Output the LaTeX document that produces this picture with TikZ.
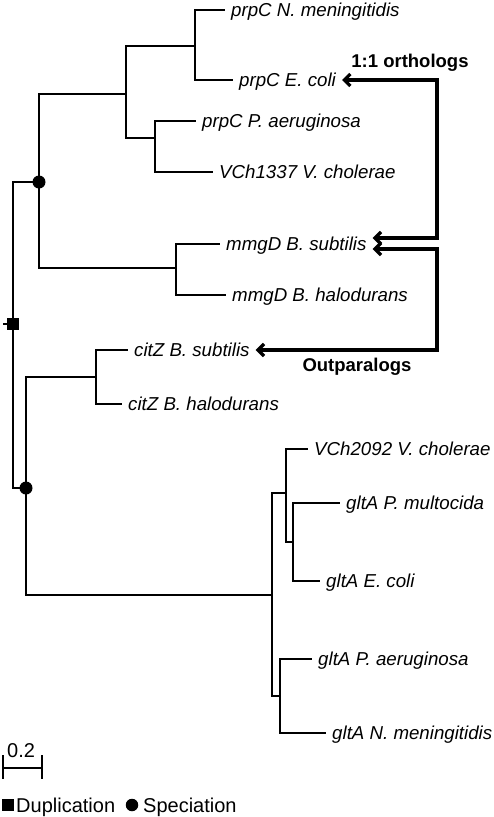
\documentclass[tikz,border=0pt]{standalone}
\usepackage{fontspec}
\setmainfont{Liberation Sans}
\usetikzlibrary{arrows.meta}
\begin{document}
\begin{tikzpicture}[x=1pt,y=-1pt,
  br/.style={line width=1.9pt},
  leaf/.style={anchor=west,inner xsep=6pt,inner ysep=0pt,text height=17pt,text depth=4pt,font=\fontsize{18.7}{22}\selectfont\itshape},
  arr/.style={line width=3.3pt,{Straight Barb[length=6pt,width=12pt]}-{Straight Barb[length=6pt,width=12pt]}},
  lbl/.style={font=\fontsize{18.5}{22}\selectfont\bfseries,inner sep=0pt},
  legtxt/.style={anchor=base west,inner sep=0pt,font=\fontsize{20}{24}\selectfont},
  spec/.style={circle,fill=black,inner sep=0pt,minimum size=13pt},
  dup/.style={rectangle,fill=black,inner sep=0pt,minimum size=12pt}]
\useasboundingbox (0,0) rectangle (493,817);

% internal nodes
\coordinate (stub) at (3,324);
\coordinate (root) at (13,324);
\coordinate (sA) at (39,182);
\coordinate (sB) at (26,488);
\coordinate (c1) at (126,94);
\coordinate (c2) at (195,46);
\coordinate (c3) at (155,138);
\coordinate (c4) at (176,268);
\coordinate (c5) at (96,377);
\coordinate (c6) at (272,595);
\coordinate (c7) at (286,493);
\coordinate (c8) at (293,542);
\coordinate (c9) at (280,696);

% leaves
\node[leaf] (L1) at (225,10) {prpC N. meningitidis};
\node[leaf] (L2) at (233,80) {prpC E. coli};
\node[leaf] (L3) at (196,121) {prpC P. aeruginosa};
\node[leaf] (L4) at (213,172) {VCh1337 V. cholerae};
\node[leaf] (L5) at (220,244) {mmgD B. subtilis};
\node[leaf] (L6) at (226,295) {mmgD B. halodurans};
\node[leaf] (L7) at (128,350) {citZ B. subtilis};
\node[leaf] (L8) at (122,404) {citZ B. halodurans};
\node[leaf] (L9) at (308,449) {VCh2092 V. cholerae};
\node[leaf] (L10) at (340,503) {gltA P. multocida};
\node[leaf] (L11) at (320,581) {gltA E. coli};
\node[leaf] (L12) at (312,659) {gltA P. aeruginosa};
\node[leaf] (L13) at (326,733) {gltA N. meningitidis};

% branches
\draw[br] (stub) -- (root);
\draw[br] (root) |- (sA);
\draw[br] (root) |- (sB);
\draw[br] (sA) |- (c1);
\draw[br] (sA) |- (c4);
\draw[br] (c1) |- (c2);
\draw[br] (c1) |- (c3);
\draw[br] (c2) |- (L1.west);
\draw[br] (c2) |- (L2.west);
\draw[br] (c3) |- (L3.west);
\draw[br] (c3) |- (L4.west);
\draw[br] (c4) |- (L5.west);
\draw[br] (c4) |- (L6.west);
\draw[br] (sB) |- (c5);
\draw[br] (sB) |- (c6);
\draw[br] (c5) |- (L7.west);
\draw[br] (c5) |- (L8.west);
\draw[br] (c6) |- (c7);
\draw[br] (c6) |- (c9);
\draw[br] (c7) |- (L9.west);
\draw[br] (c7) |- (c8);
\draw[br] (c8) |- (L10.west);
\draw[br] (c8) |- (L11.west);
\draw[br] (c9) |- (L12.west);
\draw[br] (c9) |- (L13.west);

% event markers
\node[dup] (dupm) at (root) {};
\node[spec] (specA) at (sA) {};
\node[spec] (specB) at (sB) {};

% arrows
\coordinate (ox1) at (437,150);
\coordinate (ox2) at (437,300);
\draw[arr] (L2.east) -| (ox1) |- ([yshift=6pt]L5.east);
\draw[arr] ([yshift=-5pt]L5.east) -| (ox2) |- (L7.east);
\node[lbl] (orth) at (410,63) {1:1 orthologs};
\node[lbl] (outp) at (357,367) {Outparalogs};

% scale bar
\coordinate (sb1) at (3,768);
\coordinate (sb2) at (42,768);
\draw[line width=1.9pt] (sb1) -- (sb2);
\draw[line width=1.9pt] ([yshift=13pt]sb1) -- ([yshift=-11pt]sb1);
\draw[line width=1.9pt] ([yshift=13pt]sb2) -- ([yshift=-11pt]sb2);
\node[legtxt] (sbl) at (7,757) {0.2};

% legend
\node[dup] (ldup) at (8,805) {};
\node[legtxt] (tdup) at (16,812) {Duplication};
\node[spec,minimum size=12.5pt] (lspec) at (132,805) {};
\node[legtxt] (tspec) at (143,812) {Speciation};
\end{tikzpicture}
\end{document}
